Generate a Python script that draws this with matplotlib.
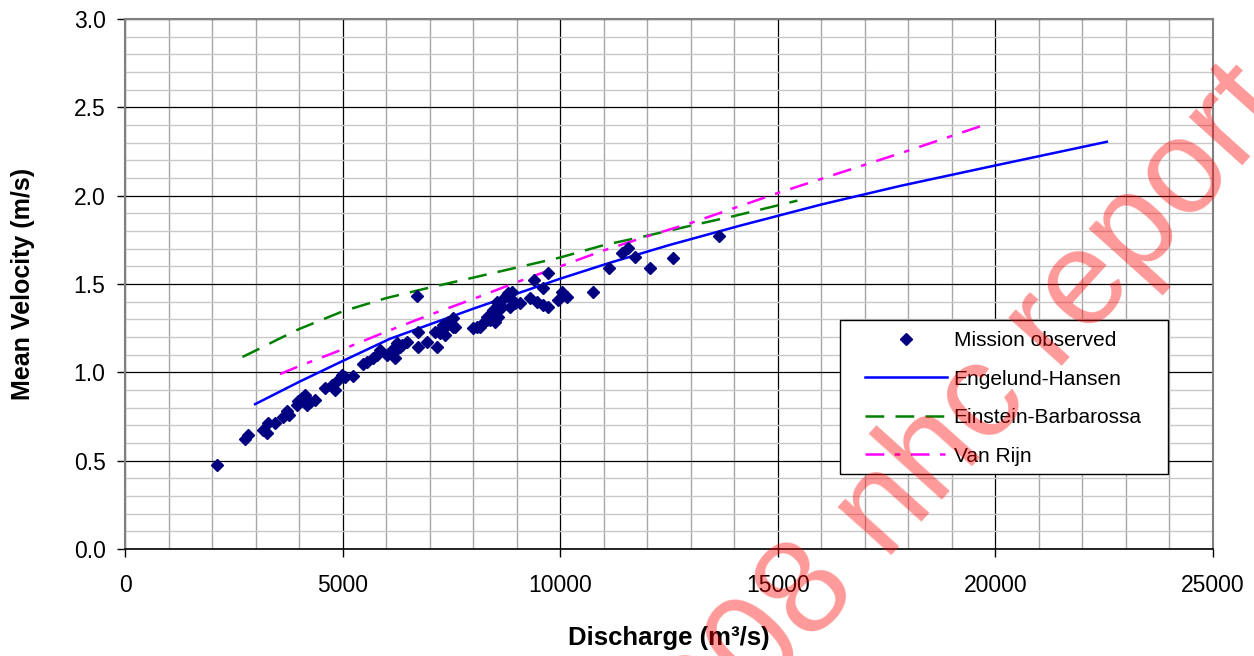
import matplotlib
matplotlib.use("Agg")
import matplotlib.pyplot as plt
from matplotlib.ticker import MultipleLocator, FormatStrFormatter
from matplotlib.patches import Rectangle

plt.rcParams['font.family'] = ['Liberation Sans', 'DejaVu Sans']

# Observed data (discharge m3/s, mean velocity m/s)
obs_q = [2110, 2760, 2830, 3180, 3260, 3290, 3450, 3640, 3715, 3760,
         3945, 3985, 4060, 4136, 4175, 4250, 4366, 4596, 4750, 4826,
         4902, 4980, 5055, 5246, 5476, 5553, 5706, 5783, 5860, 6012,
         6128, 6166, 6204, 6243, 6319, 6358, 6473, 6740, 6740, 6718,
         6932, 7123, 7162, 7238, 7238, 7314, 7353, 7353, 7429, 7467,
         7544, 7544, 7583, 8004, 8081, 8157, 8234, 8311, 8311, 8387,
         8464, 8502, 8502, 8541, 8579, 8617, 8656, 8732, 8770, 8809,
         8847, 8885, 8885, 8961, 9076, 9306, 9398, 9460, 9597, 9612,
         9727, 9727, 9957, 10034, 10149, 10761, 11129, 11413, 11566, 11719,
         12063, 12585, 13656]
obs_v = [0.475, 0.625, 0.645, 0.675, 0.655, 0.715, 0.715, 0.75, 0.78, 0.76,
         0.815, 0.835, 0.855, 0.87, 0.815, 0.83, 0.845, 0.91, 0.93, 0.90,
         0.955, 0.985, 0.975, 0.98, 1.05, 1.06, 1.08, 1.10, 1.125, 1.10,
         1.125, 1.11, 1.08, 1.165, 1.145, 1.155, 1.173, 1.145, 1.23, 1.43,
         1.173, 1.23, 1.142, 1.24, 1.22, 1.268, 1.211, 1.258, 1.287, 1.277,
         1.306, 1.258, 1.258, 1.249, 1.258, 1.258, 1.277, 1.296, 1.315, 1.296,
         1.353, 1.287, 1.334, 1.40, 1.315, 1.372, 1.372, 1.428, 1.438, 1.447,
         1.372, 1.41, 1.456, 1.39, 1.39, 1.419, 1.523, 1.40, 1.48, 1.38,
         1.56, 1.372, 1.41, 1.456, 1.428, 1.456, 1.589, 1.674, 1.702, 1.651,
         1.589, 1.649, 1.772]

# Engelund-Hansen
eh_q = [2990, 4000, 5000, 6090, 8000, 10000, 11140, 12500, 14130, 16000, 17810, 19980, 22560]
eh_v = [0.82, 0.946, 1.064, 1.19, 1.36, 1.53, 1.62, 1.72, 1.83, 1.95, 2.055, 2.17, 2.305]

# Einstein-Barbarossa
eb_q = [2700, 3000, 3500, 4000, 5000, 6000, 7000, 8000, 9000, 10000, 11000, 11940, 13000, 14000, 15450]
eb_v = [1.087, 1.123, 1.185, 1.245, 1.345, 1.42, 1.48, 1.536, 1.593, 1.65, 1.72, 1.77, 1.83, 1.885, 1.972]

# Van Rijn
vr_q = [3560, 4000, 5000, 6000, 7000, 8000, 9000, 10000, 11000, 12000, 13000, 14000, 15000, 16000, 17000, 18000, 19740]
vr_v = [0.99, 1.035, 1.13, 1.23, 1.325, 1.415, 1.51, 1.60, 1.69, 1.77, 1.845, 1.93, 2.015, 2.095, 2.175, 2.255, 2.40]

x_ticks = [0, 5000, 10000, 15000, 20000, 25000]
y_ticks = [0.0, 0.5, 1.0, 1.5, 2.0, 2.5, 3.0]

W, H = 1254, 656
fig = plt.figure(figsize=(W / 100, H / 100), dpi=100)
ax = fig.add_axes([125/W, 1-549/H, (1213-125)/W, (549-19)/H])

ax.set_xlim(0, 25000)
ax.set_ylim(0, 3.0)
ax.set_xticks(x_ticks)
ax.set_yticks(y_ticks)
ax.xaxis.set_minor_locator(MultipleLocator(1000))
ax.yaxis.set_minor_locator(MultipleLocator(0.1))
ax.yaxis.set_major_formatter(FormatStrFormatter('%.1f'))

ax.grid(which='minor', axis='x', color='#a8a8a8', linewidth=1.0)
ax.grid(which='minor', axis='y', color='#c8c8c8', linewidth=1.0)
ax.grid(which='major', color='black', linewidth=0.9)
ax.set_axisbelow(True)

ax.tick_params(which='major', direction='out', length=6, width=1, labelsize=16.5, color='black')
ax.tick_params(axis='x', pad=12)
ax.tick_params(axis='y', pad=8)
ax.tick_params(which='minor', length=0)

for s in ['left', 'top', 'right']:
    ax.spines[s].set_color('#808080')
    ax.spines[s].set_linewidth(1.5)
ax.spines['bottom'].set_color('black')
ax.spines['bottom'].set_linewidth(1.2)

ax.plot(obs_q, obs_v, linestyle='none', marker='D', markersize=6,
        color='#000080', label='Mission observed', zorder=4)
ax.plot(eh_q, eh_v, color='#0000FF', linewidth=1.8, label='Engelund-Hansen', zorder=3)
ax.plot(eb_q, eb_v, color='#008000', linewidth=1.8, dashes=(7.5, 4.5), label='Einstein-Barbarossa', zorder=3)
ax.plot(vr_q, vr_v, color='#FF00FF', linewidth=1.8, dashes=(7.5, 4.2, 2.2, 4.2), label='Van Rijn', zorder=3)

ax.set_xlabel('Discharge (m³/s)', fontsize=18.5, fontweight='bold')
ax.set_ylabel('Mean Velocity (m/s)', fontsize=18, fontweight='bold')
ax.xaxis.set_label_coords(0.5, -0.145)
ax.yaxis.set_label_coords(-0.083, 0.5)

# legend box drawn explicitly (asymmetric padding as in the reference)
ax_w, ax_h = 1213 - 125, 549 - 19
box = Rectangle(((840-125)/ax_w, (549-474)/ax_h), (1168-840)/ax_w, (474-320)/ax_h,
                transform=ax.transAxes, facecolor='white', edgecolor='black',
                linewidth=1.0, zorder=5)
ax.add_patch(box)
leg = ax.legend(loc='upper left', bbox_to_anchor=((865-125)/ax_w, (549-331)/ax_h),
                fontsize=15, frameon=False, handlelength=3.95, handletextpad=0.3,
                labelspacing=0.94, borderpad=0, borderaxespad=0)
leg.set_zorder(6)

fig.text(950/W, 1-438/H, '2008 nhc report', fontsize=97, color='red', alpha=0.4,
         rotation=48, ha='center', va='center', rotation_mode='anchor', zorder=10)

fig.savefig('out.png', dpi=100)
